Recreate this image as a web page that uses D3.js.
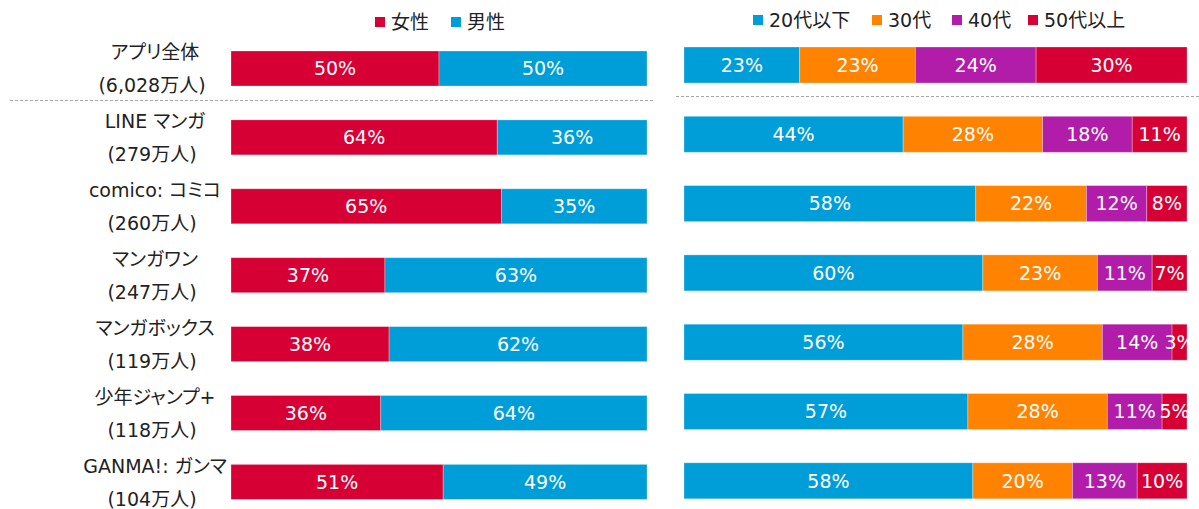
<!DOCTYPE html>
<html>
<head>
<meta charset="utf-8">
<script src="https://cdn.jsdelivr.net/npm/d3@7"></script>
<style>
  body { margin: 0; background: #fff; }
  text { font-family: "DejaVu Sans", "Noto Sans CJK JP", sans-serif; font-feature-settings: "palt"; }
</style>
</head>
<body>
<svg id="chart" width="1199" height="509"></svg>
<script>
// data
var apps = ["アプリ全体", "LINE マンガ", "comico: コミコ", "マンガワン", "マンガボックス", "少年ジャンプ+", "GANMA!: ガンマ"];
var users = ["(6,028万人)", "(279万人)", "(260万人)", "(247万人)", "(119万人)", "(118万人)", "(104万人)"];
var genderKeys = ["女性", "男性"];
var female = [50, 64, 65, 37, 38, 36, 51];
var male = [50, 36, 35, 63, 62, 64, 49];
var ageKeys = ["20代以下", "30代", "40代", "50代以上"];
var age20 = [23, 44, 58, 60, 56, 57, 58];
var age30 = [23, 28, 22, 23, 28, 28, 20];
var age40 = [24, 18, 12, 11, 14, 11, 13];
var age50 = [30, 11, 8, 7, 3, 5, 10];

var red = "#D70035", blue = "#009ED8", orange = "#FF8300", purple = "#B11CA9";
var genderColors = [red, blue];
var ageColors = [blue, orange, purple, red];
var fontSize = 19;

var svg = d3.select("#chart");

function makeRows(seriesList) {
    return apps.map(function (name, i) {
        var vals = seriesList.map(function (s) { return s[i]; });
        var total = d3.sum(vals);
        var acc = 0;
        return vals.map(function (v, k) {
            var seg = {row: i, k: k, value: v, x0: acc / total, x1: (acc + v) / total};
            acc += v;
            return seg;
        });
    });
}

function drawStack(rows, colors, x, y, h) {
    var g = svg.append("g");
    rows.forEach(function (segs) {
        var rg = g.append("g");
        rg.selectAll("rect")
            .data(segs)
            .enter().append("rect")
            .attr("x", function (d) { return x(d.x0); })
            .attr("y", function (d) { return y(d.row); })
            .attr("width", function (d) { return x(d.x1) - x(d.x0); })
            .attr("height", h)
            .attr("fill", function (d) { return colors[d.k]; })
            .attr("stroke", "#fff")
            .attr("stroke-opacity", 0.35)
            .attr("stroke-width", 0.8);
        rg.selectAll("text")
            .data(segs)
            .enter().append("text")
            .attr("x", function (d) { return (x(d.x0) + x(d.x1)) / 2; })
            .attr("y", function (d) { return y(d.row) + h / 2; })
            .attr("dy", "0.36em")
            .attr("text-anchor", "middle")
            .attr("fill", "#fff")
            .attr("font-size", fontSize)
            .text(function (d) { return d.value + "%"; });
    });
}

// left: gender
var xL = d3.scaleLinear().domain([0, 1]).range([231, 647]);
var yL = d3.scaleLinear().domain([0, 1]).range([51, 119.9]);
drawStack(makeRows([female, male]), genderColors, xL, yL, 35);

// right: age
var xR = d3.scaleLinear().domain([0, 1]).range([684, 1187]);
var yR = d3.scaleLinear().domain([0, 1]).range([47, 116.3]);
drawStack(makeRows([age20, age30, age40, age50]), ageColors, xR, yR, 36);

// row labels
var lab = svg.append("g");
apps.forEach(function (name, i) {
    var cy = yL(i) + 17.5;
    lab.append("text")
        .attr("x", 155).attr("y", cy - 16).attr("dy", "0.36em")
        .attr("text-anchor", "middle").attr("font-size", fontSize).attr("fill", "#222")
        .text(name);
    lab.append("text")
        .attr("x", 152).attr("y", cy + 17).attr("dy", "0.36em")
        .attr("text-anchor", "middle").attr("font-size", fontSize).attr("fill", "#222")
        .text(users[i]);
});

// dashed separators
svg.append("line").attr("x1", 10).attr("x2", 653).attr("y1", 100.5).attr("y2", 100.5)
    .attr("stroke", "#a6a6a6").attr("stroke-dasharray", "3,2");
svg.append("line").attr("x1", 676).attr("x2", 1199).attr("y1", 96.5).attr("y2", 96.5)
    .attr("stroke", "#a6a6a6").attr("stroke-dasharray", "3,2");

// legends
function legend(keys, colors, xs, cy) {
    var lg = svg.append("g");
    keys.forEach(function (k, i) {
        lg.append("rect").attr("x", xs[i]).attr("y", cy - 5).attr("width", 10).attr("height", 10)
            .attr("fill", colors[i]);
        lg.append("text").attr("x", xs[i] + 16).attr("y", cy).attr("dy", "0.36em")
            .attr("font-size", fontSize).attr("fill", "#222").text(k);
    });
}
legend(genderKeys, genderColors, [375, 451], 22);
legend(ageKeys, ageColors, [753, 872, 952, 1028], 20);
</script>
</body>
</html>
